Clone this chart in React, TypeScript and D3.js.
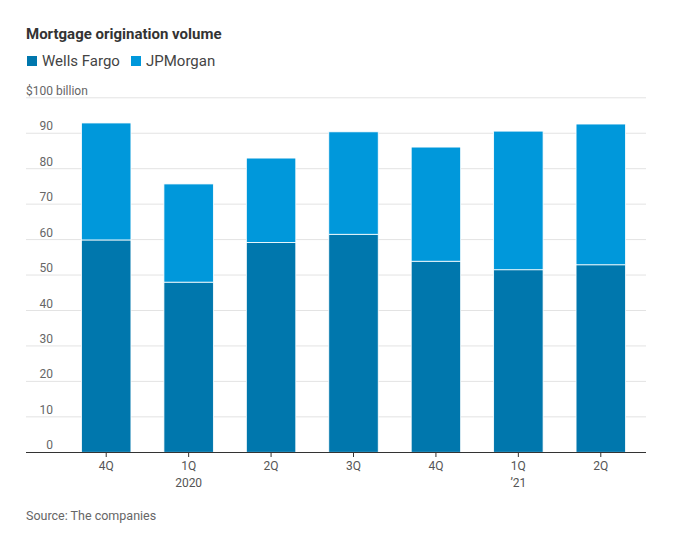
import React from "react";
import * as d3 from "d3";

const quarters = ["4Q", "1Q", "2Q", "3Q", "4Q", "1Q", "2Q"];
const yearLabels = ["", "2020", "", "", "", "’21", ""];
const wellsFargo = [59.9, 48.0, 59.2, 61.5, 53.9, 51.5, 52.9];
const jpMorgan = [33.0, 27.7, 23.8, 28.9, 32.2, 39.1, 39.7];
const yTicks = [0, 10, 20, 30, 40, 50, 60, 70, 80, 90, 100];
const seriesNames = ["Wells Fargo", "JPMorgan"];
const seriesColors = ["#0077ad", "#0098db"];

const W = 692;
const H = 538;
const FONT = "Roboto, 'Noto Sans', sans-serif";

export default function App() {
  const x = d3
    .scaleBand<number>()
    .domain(d3.range(quarters.length))
    .range([65, 642])
    .paddingInner(0.4)
    .paddingOuter(0.2);
  const y = d3.scaleLinear().domain([0, 100]).range([452.3, 97.8]);

  const rows = quarters.map((q, i) => ({ i, wf: wellsFargo[i], jpm: jpMorgan[i] }));
  const stack = d3.stack<any>().keys(["wf", "jpm"])(rows);

  return (
    <svg
      width={W}
      height={H}
      style={{ position: "absolute", left: 0, top: 0, background: "#fff" }}
      fontFamily={FONT}
    >
      <text x={26} y={38.5} fontSize={15} fontWeight={700} fill="#333">
        Mortgage origination volume
      </text>
      {/* legend */}
      <rect x={27} y={56} width={10} height={10} fill={seriesColors[0]} />
      <text x={42} y={66} fontSize={15} fill="#444">
        {seriesNames[0]}
      </text>
      <rect x={131} y={56} width={10} height={10} fill={seriesColors[1]} />
      <text x={146} y={66} fontSize={15} fill="#444">
        {seriesNames[1]}
      </text>

      {/* grid */}
      {yTicks.map((t) => (
        <g key={t}>
          {t > 0 && (
            <line x1={26} x2={646} y1={y(t)} y2={y(t)} stroke="#e3e3e3" strokeWidth={1} />
          )}
          <text
            x={t === 100 ? 26 : 53}
            y={y(t) - 3}
            fontSize={12}
            fill="#666"
            textAnchor={t === 100 ? "start" : "end"}
          >
            {t === 100 ? "$100 billion" : t}
          </text>
        </g>
      ))}

      {/* bars */}
      {stack.map((s, si) =>
        s.map((d, i) => (
          <rect
            key={si + "-" + i}
            x={x(i)!}
            width={x.bandwidth()}
            y={y(d[1])}
            height={y(d[0]) - y(d[1])}
            fill={seriesColors[si]}
            stroke="#fff"
            strokeWidth={0.8}
          />
        ))
      )}

      {/* axis */}
      <line x1={26} x2={646} y1={452.5} y2={452.5} stroke="#333" strokeWidth={1.2} />
      {quarters.map((q, i) => {
        const cx = x(i)! + x.bandwidth() / 2;
        return (
          <g key={i}>
            <line x1={cx} x2={cx} y1={453} y2={457} stroke="#333" strokeWidth={1} />
            <text x={cx} y={470} fontSize={12} fill="#555" textAnchor="middle">
              {q}
            </text>
            {yearLabels[i] && (
              <text x={cx} y={487} fontSize={12} fill="#555" textAnchor="middle">
                {yearLabels[i]}
              </text>
            )}
          </g>
        );
      })}

      <text x={26} y={520} fontSize={12.5} fill="#666">
        Source: The companies
      </text>
    </svg>
  );
}
